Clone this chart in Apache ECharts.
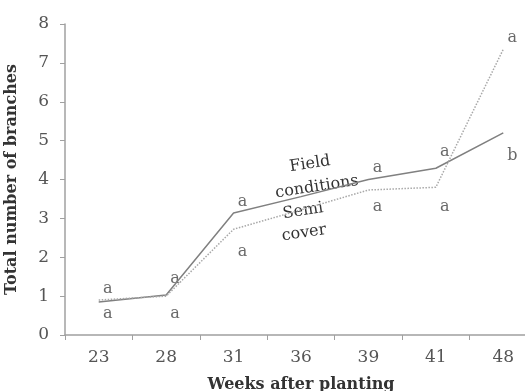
<!DOCTYPE html>
<html>
<head>
<meta charset="utf-8">
<script src="https://cdn.jsdelivr.net/npm/echarts@6/dist/echarts.min.js"></script>
<style>html,body{margin:0;padding:0;background:#fff}#c{width:525px;height:391px}</style>
</head>
<body>
<div id="c"></div>
<script>
// Data
var weeks = ['23', '28', '31', '36', '39', '41', '48'];
var fieldConditions = [0.85, 1.03, 3.14, 3.56, 4.0, 4.29, 5.2];
var semiCover = [0.9, 1.0, 2.72, 3.22, 3.73, 3.8, 7.35];
var fieldLetters = ['a', 'a', 'a', '', 'a', 'a', 'b'];
var fieldLetterY = [1.18, 1.45, 3.42, null, 4.3, 4.7, 4.62];
var semiLetters = ['a', 'a', 'a', '', 'a', 'a', 'a'];
var semiLetterY = [0.55, 0.55, 2.15, null, 3.3, 3.3, 7.65];
var yTicks = [0, 1, 2, 3, 4, 5, 6, 7, 8];

var serif = '"DejaVu Serif", serif';
var chart = echarts.init(document.getElementById('c'), null, {renderer: 'canvas'});

function letterData(ys, letters) {
  var out = [];
  for (var i = 0; i < ys.length; i++) {
    if (ys[i] != null) out.push({value: [weeks[i], ys[i]], name: letters[i]});
  }
  return out;
}

var letterLabel = {
  show: true,
  formatter: function (p) { return p.name; },
  position: 'inside',
  offset: [9, 0],
  fontFamily: serif,
  fontSize: 16,
  color: '#444'
};

chart.setOption({
  animation: false,
  backgroundColor: '#fff',
  grid: {left: 65, right: -12, top: 24, bottom: 56, containLabel: false, outerBoundsMode: 'none'},
  xAxis: {
    type: 'category',
    data: weeks,
    boundaryGap: true,
    name: 'Weeks after planting',
    nameLocation: 'middle',
    nameGap: 42,
    nameTextStyle: {fontFamily: serif, fontWeight: 'bold', fontSize: 16, color: '#333'},
    axisLine: {lineStyle: {color: '#a0a0a0', width: 1.5}},
    axisTick: {show: true, length: 5, lineStyle: {color: '#a0a0a0'}},
    axisLabel: {fontFamily: serif, fontSize: 17, color: '#555', margin: 14}
  },
  yAxis: {
    type: 'value',
    min: yTicks[0],
    max: yTicks[yTicks.length - 1],
    interval: 1,
    name: 'Total number of branches',
    nameLocation: 'middle',
    nameGap: 45,
    nameTextStyle: {fontFamily: serif, fontWeight: 'bold', fontSize: 16, color: '#333'},
    axisLine: {show: true, lineStyle: {color: '#a0a0a0', width: 1.5}},
    axisTick: {show: true, length: 5, lineStyle: {color: '#a0a0a0'}},
    splitLine: {show: false},
    axisLabel: {fontFamily: serif, fontSize: 17, color: '#555', margin: 16}
  },
  series: [
    {
      name: 'Field conditions',
      type: 'line',
      data: fieldConditions,
      symbol: 'none',
      lineStyle: {color: '#808080', width: 1.5, type: 'solid'}
    },
    {
      name: 'Semi cover',
      type: 'line',
      data: semiCover,
      symbol: 'none',
      lineStyle: {color: '#a8a8a8', width: 1.5, type: 'dotted'}
    },
    {
      type: 'scatter',
      symbolSize: 0,
      data: letterData(fieldLetterY, fieldLetters),
      label: letterLabel,
      silent: true
    },
    {
      type: 'scatter',
      symbolSize: 0,
      data: letterData(semiLetterY, semiLetters),
      label: letterLabel,
      silent: true
    }
  ],
  graphic: [
    {type: 'text', x: 310, y: 164, rotation: 0.15, style: {text: 'Field', font: '16px ' + serif, fill: '#333', textAlign: 'center', textVerticalAlign: 'middle'}},
    {type: 'text', x: 317, y: 187, rotation: 0.15, style: {text: 'conditions', font: '16px ' + serif, fill: '#333', textAlign: 'center', textVerticalAlign: 'middle'}},
    {type: 'text', x: 303, y: 211, rotation: 0.15, style: {text: 'Semi', font: '16px ' + serif, fill: '#333', textAlign: 'center', textVerticalAlign: 'middle'}},
    {type: 'text', x: 304, y: 233, rotation: 0.15, style: {text: 'cover', font: '16px ' + serif, fill: '#333', textAlign: 'center', textVerticalAlign: 'middle'}}
  ]
});
</script>
</body>
</html>
